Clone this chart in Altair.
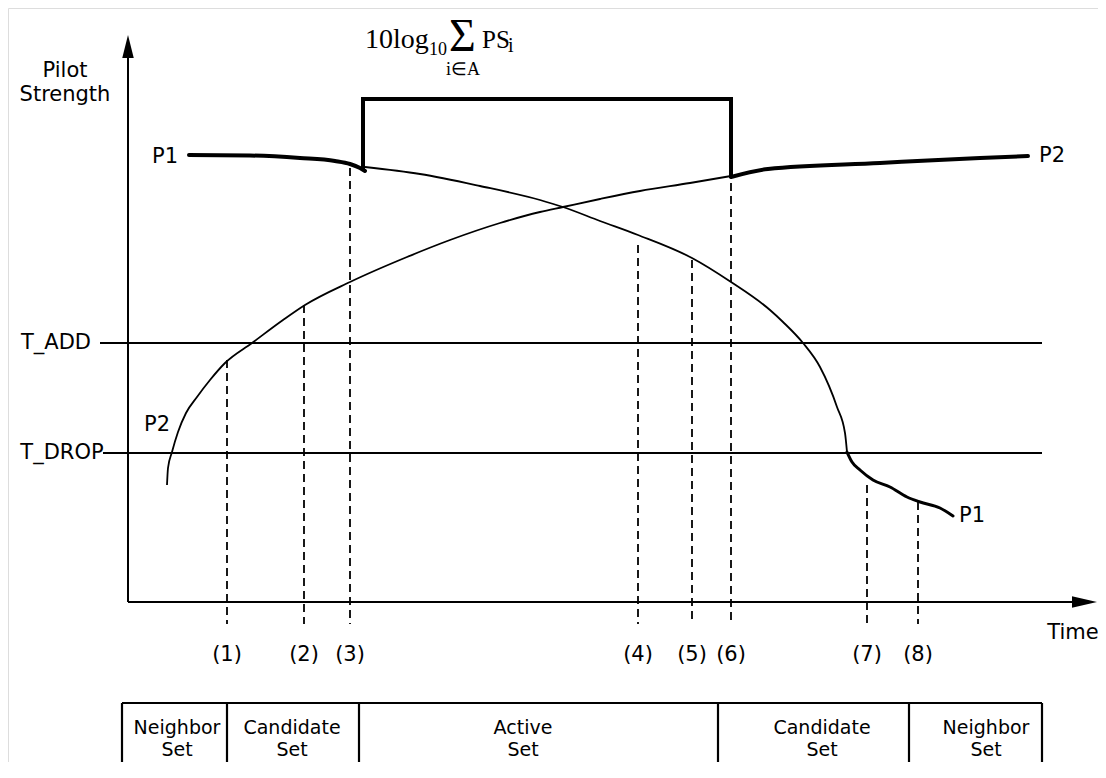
import altair as alt
import pandas as pd

# ---------------- data (image pixel units) ----------------
P1_HEAD_X = [189, 250, 300, 335, 350, 360, 365]
P1_HEAD_Y = [155, 155.5, 158, 161, 164, 168, 171]
P1_THIN_X = [365, 420, 480, 540, 563, 600, 638, 692, 731, 770, 783, 803, 820, 837, 845, 847]
P1_THIN_Y = [167, 174, 186, 200, 207, 221, 235, 258, 282, 310, 322, 343, 367, 407, 433, 452]
P1_TAIL_X = [847, 852, 860, 873, 890, 907, 920, 940, 953]
P1_TAIL_Y = [452, 462, 470, 480, 487, 497, 502, 508, 516]

P2_THIN_X = [167, 168, 172, 178, 186, 197, 210, 225, 252, 283, 305, 350, 407, 450, 500,
             540, 563, 600, 640, 690, 731]
P2_THIN_Y = [485, 468, 452, 432, 413, 397, 380, 363, 343, 320, 305, 282, 257, 240, 223,
             212, 207, 199, 191, 183, 176]
P2_HEAD_X = [731, 768, 880, 980, 1028]
P2_HEAD_Y = [177, 169, 163, 158, 156]

SUM_BOX_X = [363, 363, 731, 731]
SUM_BOX_Y = [170, 99, 99, 178]

THRESH_NAMES = ["T_ADD", "T_DROP"]
THRESH_Y = [343, 453]
THRESH_X0 = [100, 103]
THRESH_X1 = [1042, 1042]
THRESH_LABEL_X = [56, 62]

EVENT_LABELS = ["(1)", "(2)", "(3)", "(4)", "(5)", "(6)", "(7)", "(8)"]
EVENT_X = [227, 304, 350, 638, 692, 731, 867, 918]
EVENT_TOP = [360, 305, 168, 245, 260, 183, 485, 502]
EVENT_BOTTOM = [624, 624, 624, 624, 624, 624, 624, 624]
EVENT_LABEL_Y = [655, 655, 655, 655, 655, 655, 655, 655]

AXIS_X = [128, 128, 1080]
AXIS_Y = [45, 602, 602]
ARROW_X = [128, 1084.5]
ARROW_Y = [46.5, 602]
ARROW_SHAPE = ["M0,-1L-0.5,1L0.5,1Z", "M1,0L-1,-0.46L-1,0.46Z"]
ARROW_SIZE = [529, 625]

TABLE_X = [122, 227, 359, 718, 909, 1042]
TABLE_TOP = 703
TABLE_BOTTOM = 762
CELL_X = [177, 292, 523, 822, 986]
CELL_ROW1 = ["Neighbor", "Candidate", "Active", "Candidate", "Neighbor"]
CELL_ROW2 = ["Set", "Set", "Set", "Set", "Set"]
ROW_Y = [728, 750]

SANS_TEXT = ["Pilot", "Strength", "P1", "P2", "P2", "P1", "Time"]
SANS_X = [65, 65, 165, 1052, 157, 972, 1073]
SANS_Y = [71, 95, 157, 156, 425, 516, 633]

FORMULA_TEXT = ["10log", "10", "Σ", "PS", "i", "i∈A"]
FORMULA_X = [365, 429, 449, 482, 508, 446]
FORMULA_Y = [48, 55, 51, 48, 52, 75]
FORMULA_SIZE = [28, 18, 46, 25, 20, 18]

# ---------------- build tables ----------------
def seg(name, xs, ys):
    return pd.DataFrame({"seg": name, "ord": list(range(len(xs))), "x": xs, "y": ys})

thin_df = pd.concat([seg("p1", P1_THIN_X, P1_THIN_Y), seg("p2", P2_THIN_X, P2_THIN_Y)])
thick_df = pd.concat([seg("p1h", P1_HEAD_X, P1_HEAD_Y), seg("p2h", P2_HEAD_X, P2_HEAD_Y)])
tail_df = seg("p1t", P1_TAIL_X, P1_TAIL_Y)
box_df = seg("box", SUM_BOX_X, SUM_BOX_Y)
axis_df = pd.concat([seg("yax", AXIS_X[:2], AXIS_Y[:2]), seg("xax", AXIS_X[1:], AXIS_Y[1:])])
thresh_df = pd.concat([seg(n, [a, b], [y, y]) for n, a, b, y in
                       zip(THRESH_NAMES, THRESH_X0, THRESH_X1, THRESH_Y)])
dash_df = pd.concat([seg(l, [x, x], [t, b]) for l, x, t, b in
                     zip(EVENT_LABELS, EVENT_X, EVENT_TOP, EVENT_BOTTOM)])
table_df = pd.concat([seg("top", [TABLE_X[0], TABLE_X[-1]], [TABLE_TOP, TABLE_TOP])] +
                     [seg("v%d" % i, [x, x], [TABLE_TOP, TABLE_BOTTOM]) for i, x in enumerate(TABLE_X)])
arrow_df = pd.DataFrame({"x": ARROW_X, "y": ARROW_Y, "shape": ARROW_SHAPE, "size": ARROW_SIZE})

sans_df = pd.concat([
    pd.DataFrame({"x": SANS_X, "y": SANS_Y, "t": SANS_TEXT}),
    pd.DataFrame({"x": THRESH_LABEL_X, "y": THRESH_Y, "t": THRESH_NAMES}),
])
cell_df = pd.concat([
    pd.DataFrame({"x": CELL_X, "y": [ROW_Y[0]] * len(CELL_X), "t": CELL_ROW1}),
    pd.DataFrame({"x": CELL_X, "y": [ROW_Y[1]] * len(CELL_X), "t": CELL_ROW2}),
])
event_df = pd.DataFrame({"x": EVENT_X, "y": EVENT_LABEL_Y, "t": EVENT_LABELS})
formula_df = pd.DataFrame({"x": FORMULA_X, "y": FORMULA_Y, "t": FORMULA_TEXT, "fs": FORMULA_SIZE})

# ---------------- chart ----------------
X = alt.X("x:Q", scale=alt.Scale(domain=[8, 1098], nice=False, zero=False), axis=None)
Y = alt.Y("y:Q", scale=alt.Scale(domain=[8, 762], nice=False, zero=False, reverse=True), axis=None)


def lines(df, **kw):
    return alt.Chart(df).mark_line(color="black", **kw).encode(
        x=X, y=Y, detail="seg:N", order="ord:Q")


layers = [
    lines(thresh_df, strokeWidth=1.8),
    lines(dash_df, strokeWidth=1.8, strokeDash=[8, 5]),
    lines(table_df, strokeWidth=2.2),
    lines(axis_df, strokeWidth=2),
    lines(thin_df, strokeWidth=1.8, interpolate="monotone"),
    lines(thick_df, strokeWidth=4, strokeCap="round", interpolate="monotone"),
    lines(tail_df, strokeWidth=3, strokeCap="round", interpolate="monotone"),
    lines(box_df, strokeWidth=4, strokeJoin="miter"),
    alt.Chart(arrow_df).mark_point(filled=True, color="black", opacity=1, strokeWidth=0).encode(
        x=X, y=Y, shape=alt.Shape("shape:N", scale=None), size=alt.Size("size:Q", scale=None)),
    alt.Chart(sans_df).mark_text(font="DejaVu Sans", fontSize=21, align="center",
                                 baseline="middle", color="black").encode(x=X, y=Y, text="t:N"),
    alt.Chart(cell_df).mark_text(font="DejaVu Sans", fontSize=19, align="center",
                                 baseline="middle", color="black").encode(x=X, y=Y, text="t:N"),
    alt.Chart(event_df).mark_text(font="DejaVu Sans", fontSize=21, align="center",
                                  baseline="middle", color="black").encode(x=X, y=Y, text="t:N"),
    alt.Chart(formula_df).mark_text(font="Liberation Serif", align="left",
                                    baseline="alphabetic", color="black").encode(
        x=X, y=Y, text="t:N", size=alt.Size("fs:Q", scale=None)),
]

chart = alt.layer(*layers).properties(
    width=1090, height=754, padding=0, autosize=alt.AutoSizeParams(type="none")
).configure_view(stroke=None).configure(background="white")

chart.save("out.html", embed_options={"renderer": "svg", "actions": False})
